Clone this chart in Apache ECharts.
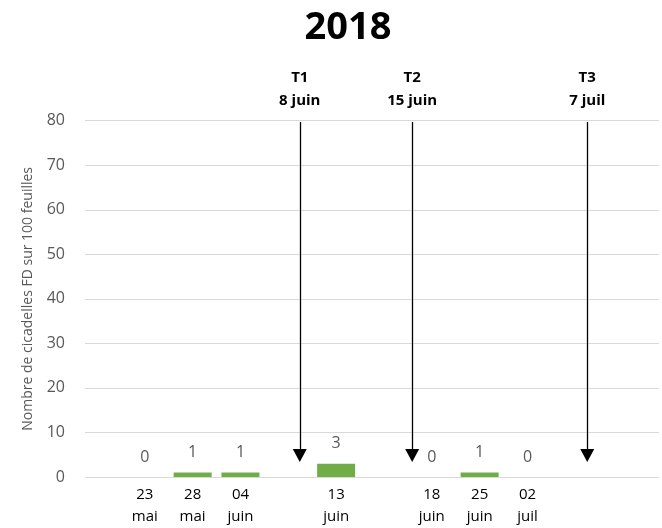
<!DOCTYPE html>
<html>
<head>
<meta charset="utf-8">
<script src="https://cdn.jsdelivr.net/npm/echarts@6/dist/echarts.min.js"></script>
<style>html,body{margin:0;padding:0;background:#fff;}#chart{width:662px;height:528px;}</style>
</head>
<body>
<div id="chart"></div>
<script>
// Category slots (empty strings are blank slots on the axis)
var categories = ['23\nmai', '28\nmai', '04\njuin', '', '13\njuin', '', '18\njuin', '25\njuin', '02\njuil'];
var values = [0, 1, 1, null, 3, null, 0, 1, 0];
// Treatments: label, date, position along the category slots
var treatNames = ['T1', 'T2', 'T3'];
var treatDates = ['8 juin', '15 juin', '7 juil'];
var treatPos = [3.24, 5.59, 9.25];
var yTicks = { min: 0, max: 80, interval: 10 };
var titleText = '2018';
var yName = 'Nombre de cicadelles FD sur 100 feuilles';

var FONT = '"Open Sans", "Noto Sans", sans-serif';

var barData = [];
values.forEach(function (v, i) { if (v !== null) barData.push([i, v]); });

var arrows = treatPos.map(function (p, i) {
  return [
    { coord: [p, 79.7], label: { formatter: treatNames[i] + '\n' + treatDates[i] } },
    { coord: [p, 4.8] }
  ];
});

var chart = echarts.init(document.getElementById('chart'), null, { renderer: 'canvas' });
chart.setOption({
  animation: false,
  backgroundColor: '#fff',
  title: {
    text: titleText,
    left: 343, top: 4, textAlign: 'center',
    textStyle: { fontFamily: FONT, fontWeight: 'bold', fontSize: 38, color: '#000' }
  },
  grid: { left: 85, right: 0, top: 120.7, bottom: 47.3, containLabel: false },
  xAxis: {
    type: 'value', min: -1.25, max: 10.75, interval: 0.25,
    axisLine: { show: false }, axisTick: { show: false }, splitLine: { show: false },
    axisLabel: {
      margin: 7, color: '#000', fontFamily: FONT, fontSize: 15, lineHeight: 22,
      showMinLabel: true, showMaxLabel: true,
      formatter: function (v) {
        var r = Math.round(v);
        if (Math.abs(v - r) > 1e-6) return '';
        return (r >= 0 && r < categories.length) ? categories[r] : '';
      }
    }
  },
  yAxis: {
    type: 'value', min: yTicks.min, max: yTicks.max, interval: yTicks.interval,
    name: yName, nameLocation: 'middle', nameGap: 50, nameRotate: 90,
    nameTextStyle: { fontFamily: FONT, fontSize: 14, color: '#595959' },
    axisLine: { show: false }, axisTick: { show: false },
    axisLabel: { margin: 20, color: '#595959', fontFamily: FONT, fontSize: 16 },
    splitLine: { lineStyle: { color: '#D9D9D9', width: 1 } }
  },
  series: [{
    type: 'bar',
    data: barData,
    barWidth: 38,
    itemStyle: { color: '#70AD47' },
    label: {
      show: true, position: 'top', distance: 12,
      color: '#595959', fontFamily: FONT, fontSize: 16,
      formatter: function (p) { return p.value[1]; }
    },
    markLine: {
      silent: true,
      symbol: ['none', 'triangle'],
      symbolSize: [14, 13],
      lineStyle: { color: '#000', width: 1.3, type: 'solid' },
      label: {
        show: true, position: 'start', distance: 10,
        color: '#000', fontFamily: FONT, fontWeight: 'bold', fontSize: 15, lineHeight: 23
      },
      data: arrows
    }
  }]
});
</script>
</body>
</html>
